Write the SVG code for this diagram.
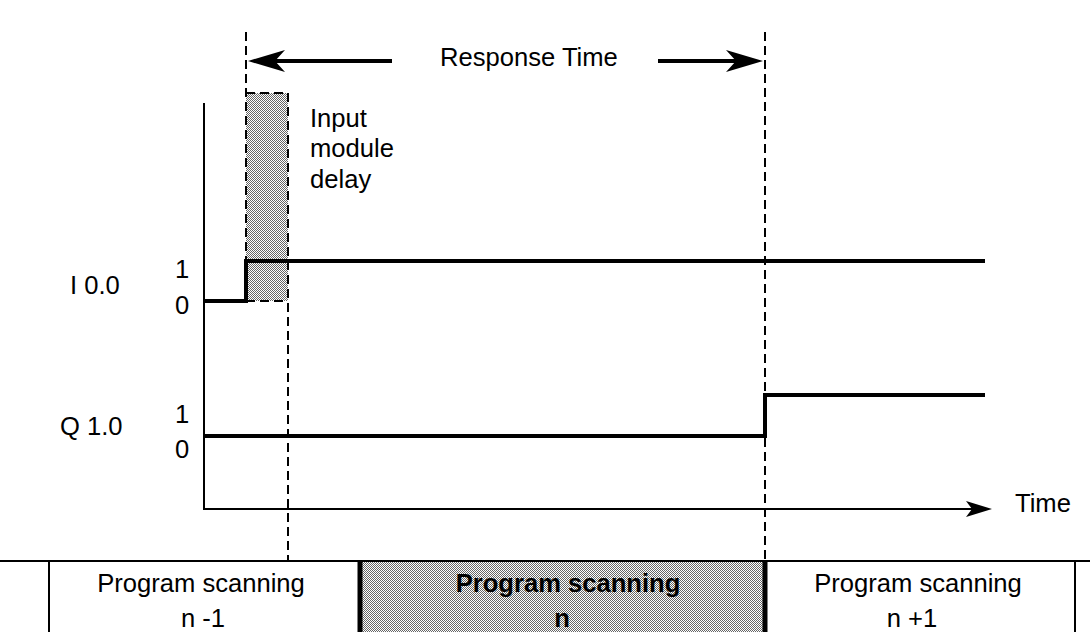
<svg xmlns="http://www.w3.org/2000/svg" width="1090" height="632" viewBox="0 0 1090 632">
<style>
text{font-family:"Liberation Sans",Arial,sans-serif;font-size:25.6px;fill:#000}
.b{font-weight:bold}
.dash{stroke:#000;stroke-width:2;stroke-dasharray:9 5;fill:none}
.sig{stroke:#000;stroke-width:4;fill:none;stroke-linecap:square}
.thin{stroke:#000;stroke-width:2;fill:none}
.thick{stroke:#000;stroke-width:5;fill:none}
.head{fill:#000;stroke:none}
</style>
<defs>
<pattern id="dots" width="2" height="2" patternUnits="userSpaceOnUse">
<rect width="2" height="2" fill="#fff"/>
<rect x="0" y="0" width="1" height="1" fill="#666"/>
<rect x="1" y="1" width="1" height="1" fill="#666"/>
</pattern>
</defs>
<rect width="1090" height="632" fill="#fff"/>
<g id="table">
<rect x="360" y="561" width="405" height="71" fill="url(#dots)"/>
<line class="thin" x1="0" y1="561" x2="1090" y2="561"/>
<line class="thin" x1="49" y1="561" x2="49" y2="632"/>
<line class="thick" x1="360" y1="561" x2="360" y2="632"/>
<line class="thick" x1="765" y1="561" x2="765" y2="632"/>
<line class="thin" x1="1075" y1="561" x2="1075" y2="632"/>
</g>
<g id="scan-n-1">
<text x="201" y="592" text-anchor="middle">Program scanning</text>
<text x="203" y="627" text-anchor="middle">n -1</text>
</g>
<g id="scan-n">
<text class="b" x="568" y="592" text-anchor="middle">Program scanning</text>
<text class="b" x="562" y="627" text-anchor="middle">n</text>
</g>
<g id="scan-n+1">
<text x="918" y="592" text-anchor="middle">Program scanning</text>
<text x="912" y="627" text-anchor="middle">n +1</text>
</g>
<g id="input-delay">
<rect x="246" y="93" width="42" height="208" fill="url(#dots)"/>
<line class="dash" x1="246" y1="93" x2="288" y2="93"/>
<line class="dash" x1="246" y1="301" x2="288" y2="301"/>
<text x="310" y="127">Input</text>
<text x="310" y="157">module</text>
<text x="310" y="188">delay</text>
</g>
<g id="connectors">
<line class="dash" x1="246" y1="32" x2="246" y2="301"/>
<line class="dash" x1="288" y1="93" x2="288" y2="561"/>
<line class="dash" x1="765" y1="32" x2="765" y2="561"/>
<line x1="274" y1="61" x2="392" y2="61" stroke="#000" stroke-width="4"/>
<path class="head" d="M248,61 L285,50 L275,61 L285,72 Z"/>
<line x1="658" y1="61" x2="738" y2="61" stroke="#000" stroke-width="4"/>
<path class="head" d="M763,61 L726,50 L736,61 L726,72 Z"/>
<line class="thin" x1="204" y1="103" x2="204" y2="510"/>
<line class="thin" x1="203" y1="509" x2="975" y2="509"/>
<path class="head" d="M992,509 L966,501 L972,509 L966,517 Z"/>
</g>
<g id="response-time">
<text x="440" y="66">Response Time</text>
</g>
<g id="signal-I0.0">
<text x="70" y="294">I 0.0</text>
<text x="175" y="278">1</text>
<text x="175" y="314">0</text>
<path class="sig" d="M206,301 L246,301 L246,261 L983,261"/>
</g>
<g id="signal-Q1.0">
<text x="60" y="435">Q 1.0</text>
<text x="175" y="423">1</text>
<text x="175" y="458">0</text>
<path class="sig" d="M206,436 L765,436 L765,395 L983,395"/>
</g>
<g id="time-label">
<text x="1015" y="512">Time</text>
</g>
</svg>
